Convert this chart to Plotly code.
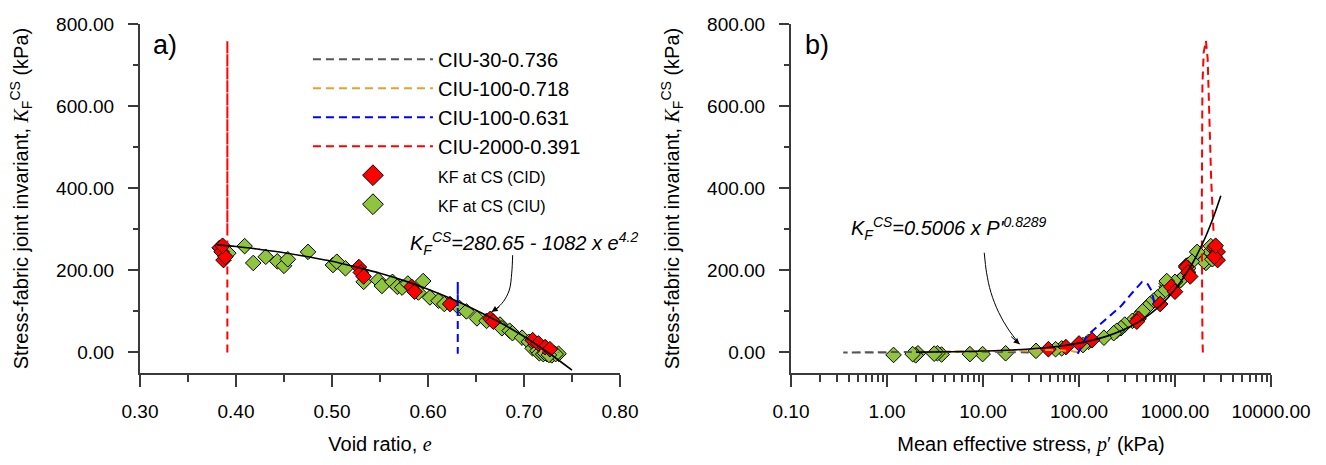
import math
import plotly.graph_objects as go

# ---------------- data ----------------
# Critical-state points of drained tests (CID): void ratio, mean effective stress, KF
cid_e = [0.383, 0.385, 0.387, 0.389, 0.386, 0.528, 0.530, 0.533, 0.583, 0.586,
         0.623, 0.665, 0.668, 0.709, 0.715, 0.722, 0.727]
cid_p = [2570, 2780, 2780, 2570, 2650, 1310, 1370, 1440, 915, 1000,
         700, 417, 400, 137, 100, 73, 48]
cid_kf = [255, 245, 225, 233, 260, 208, 195, 185, 160, 148,
          118, 82, 75, 30, 22, 13, 8]

# Critical-state points of undrained tests (CIU)
ciu_e = [0.392, 0.409, 0.418, 0.431, 0.443, 0.450, 0.454, 0.475, 0.501, 0.505,
         0.514, 0.533, 0.548, 0.552, 0.563, 0.568, 0.573, 0.579, 0.595, 0.590,
         0.602, 0.611, 0.617, 0.633, 0.640, 0.651, 0.661, 0.675, 0.677, 0.685,
         0.688, 0.698, 0.705, 0.709, 0.712, 0.718, 0.714, 0.716, 0.720, 0.724,
         0.727, 0.731, 0.736, 0.722, 0.729, 0.733, 0.726]
ciu_p = [2250, 2360, 2100, 1800, 2000, 1310, 2450, 1700, 1370, 1500,
         1370, 1090, 1140, 860, 1000, 820, 860, 820, 820, 750,
         657, 598, 546, 500, 460, 395, 360, 300, 274, 248,
         230, 182, 126, 66, 110, 57, 35.6, 17.2, 9.9, 7.3,
         3.7, 3.35, 3.1, 2.1, 1.99, 1.85, 1.17]
ciu_kf = [242, 259, 218, 233, 222, 211, 227, 245, 213, 221,
          205, 172, 176, 162, 172, 160, 158, 168, 174, 146,
          134, 126, 118, 108, 100, 83, 77, 68, 59, 53,
          47, 36, 26, 10, 18, 8, 4, -2, -4, -4,
          -5, -2, -3, -2, -7, -4, -6]

# Undrained stress paths (void ratio is constant in each test)
ciu30_e = 0.736
ciu30_p = [30, 20, 10, 5, 2, 1.0, 0.6, 0.35, 0.6, 1.0]
ciu30_kf = [0, 1, 2, 2, 1, 1, 0, 0, 0, 0]

ciu100a_e = 0.718
ciu100a_p = [100, 80, 50, 20, 8, 4, 1.9]
ciu100a_kf = [0, 4, 6, 4, 2, 2, 1]

ciu100b_e = 0.631
ciu100b_p = [98, 97, 120, 190, 274, 361, 454, 521, 571, 598, 615]
ciu100b_kf = [0, -3, 40, 81, 113, 146, 172, 166, 150, 130, 113]

ciu2000_e = 0.391
ciu2000_p = [1950, 1930, 1900, 1910, 1930, 1990, 2100, 2190, 2260, 2300, 2380, 2470, 2530]
ciu2000_kf = [0, 40, 324, 500, 650, 731, 759, 715, 610, 503, 422, 341, 284]

# Fitted curves as drawn
fit_e = [0.38, 0.40, 0.425, 0.45, 0.475, 0.50, 0.525, 0.55, 0.575, 0.60,
         0.625, 0.65, 0.675, 0.70, 0.725, 0.75]
fit_e_kf = [262, 258, 251, 243, 233, 222, 208, 193, 175, 154,
            130, 103, 73, 39, 0, -43]
fit_p = [2, 5, 10, 20, 50, 100, 200, 400, 700, 1000, 1500, 2000, 2500, 3000]
fit_p_kf = [0.9, 1.9, 3.4, 6.0, 12.8, 22.8, 40.4, 71.8, 114.2, 153.5, 214.9, 272.6, 328.2, 381.7]

# Curved annotation arrows
arrow_a_e = [0.6882, 0.6872, 0.6847, 0.6785, 0.6715, 0.6663]
arrow_a_kf = [237, 193, 152, 124, 107, 99]
arrow_b_p = [10.3, 10.9, 12.1, 14.6, 18.3, 24.1]
arrow_b_kf = [243, 194, 146, 97, 57, 20]

# Tick labels
xa_tickvals = [0.30, 0.40, 0.50, 0.60, 0.70, 0.80]
xa_ticktext = ["0.30", "0.40", "0.50", "0.60", "0.70", "0.80"]
xb_tickvals = [0.1, 1, 10, 100, 1000, 10000]
xb_ticktext = ["0.10", "1.00", "10.00", "100.00", "1000.00", "10000.00"]
y_tickvals = [0, 200, 400, 600, 800]
y_ticktext = ["0.00", "200.00", "400.00", "600.00", "800.00"]

# ---------------- styling ----------------
FONT = "Arial, 'Liberation Sans', sans-serif"
SERIF = "'Liberation Serif', 'Times New Roman', serif"
AX = "#3a3a3a"
GREEN = "#8EC43E"
RED = "#FF0000"
DASH = "8px,5px"

fig = go.Figure()


def marker_traces(xe, xp, kf, name, color, rank):
    mk = dict(symbol="diamond", size=12, color=color, line=dict(color="black", width=1))
    fig.add_trace(go.Scatter(x=xe, y=kf, mode="markers", name=name, marker=mk,
                             xaxis="x", yaxis="y", showlegend=False))
    fig.add_trace(go.Scatter(x=xp, y=kf, mode="markers", name=name, marker=mk,
                             xaxis="x2", yaxis="y2", showlegend=False))
    # legend entry (larger symbol, as in the reference legend)
    fig.add_trace(go.Scatter(x=[None], y=[None], mode="markers", name=name, legendrank=rank,
                             marker=dict(symbol="diamond", size=16, color=color,
                                         line=dict(color="black", width=1)),
                             xaxis="x", yaxis="y", showlegend=True))


marker_traces(ciu_e, ciu_p, ciu_kf,
              '<span style="font-size:16px">KF at CS (CIU)</span>', GREEN, 6)
marker_traces(cid_e, cid_p, cid_kf,
              '<span style="font-size:16px">KF at CS (CID)</span>', RED, 5)

paths = [
    ("CIU-30-0.736", ciu30_e, ciu30_p, ciu30_kf, "#555555", 1),
    ("CIU-100-0.718", ciu100a_e, ciu100a_p, ciu100a_kf, "#E8A030", 2),
    ("CIU-100-0.631", ciu100b_e, ciu100b_p, ciu100b_kf, "#0000FF", 3),
    ("CIU-2000-0.391", ciu2000_e, ciu2000_p, ciu2000_kf, RED, 4),
]
for name, e0, pp, kk, col, rank in paths:
    fig.add_trace(go.Scatter(x=[e0] * len(kk), y=kk, mode="lines", name=name,
                             legendrank=rank, line=dict(color=col, width=2, dash=DASH),
                             xaxis="x", yaxis="y", showlegend=True))
    fig.add_trace(go.Scatter(x=pp, y=kk, mode="lines", name=name, legendrank=rank,
                             line=dict(color=col, width=2, dash=DASH),
                             xaxis="x2", yaxis="y2", showlegend=False))

fig.add_trace(go.Scatter(x=fit_e, y=fit_e_kf, mode="lines", line=dict(color="black", width=1.6),
                         xaxis="x", yaxis="y", showlegend=False, line_shape="spline"))
fig.add_trace(go.Scatter(x=fit_p, y=fit_p_kf, mode="lines", line=dict(color="black", width=1.6),
                         xaxis="x2", yaxis="y2", showlegend=False, line_shape="spline"))

fig.add_trace(go.Scatter(x=arrow_a_e, y=arrow_a_kf, mode="lines", line=dict(color="black", width=1),
                         xaxis="x", yaxis="y", showlegend=False, line_shape="spline"))
fig.add_trace(go.Scatter(x=arrow_b_p, y=arrow_b_kf, mode="lines", line=dict(color="black", width=1),
                         xaxis="x2", yaxis="y2", showlegend=False, line_shape="spline"))

annotations = [
    dict(text="a)", x=0.3115, y=750, xref="x", yref="y", xanchor="left", yanchor="middle",
         showarrow=False, font=dict(size=27, color="black")),
    dict(text="b)", x=-0.875, y=750, xref="x2", yref="y2", xanchor="left", yanchor="middle",
         showarrow=False, font=dict(size=27, color="black")),
    dict(text="<i>K<sub>F</sub><sup>CS</sup>=280.65 - 1082 x e<sup>4.2</sup></i>",
         x=0.579, y=266, xref="x", yref="y", xanchor="left", yanchor="middle",
         showarrow=False, font=dict(size=20, color="black")),
    dict(text="<i>K<sub>F</sub><sup>CS</sup>=0.5006 x P'<sup>0.8289</sup></i>",
         x=math.log10(0.40), y=302, xref="x2", yref="y2", xanchor="left", yanchor="middle",
         showarrow=False, font=dict(size=20, color="black")),
    dict(text="", x=arrow_a_e[-1], y=arrow_a_kf[-1], xref="x", yref="y",
         showarrow=True, arrowhead=2, arrowsize=1.2, arrowwidth=1, arrowcolor="black",
         ax=9, ay=-6, standoff=0),
    dict(text="", x=math.log10(arrow_b_p[-1]), y=arrow_b_kf[-1], xref="x2", yref="y2",
         showarrow=True, arrowhead=2, arrowsize=1.2, arrowwidth=1, arrowcolor="black",
         ax=-10, ay=-9, standoff=0),
]

common_axis = dict(showline=True, linecolor=AX, linewidth=2, ticks="outside",
                   tickcolor=AX, tickwidth=1.5, showgrid=False, zeroline=False,
                   tickfont=dict(size=19, color="black", family=FONT))

ytitle = ('Stress-fabric joint invariant, <span style="font-family:' + SERIF +
          '"><i>K</i></span><sub>F</sub><sup>CS</sup> (kPa)')

fig.update_layout(
    width=1326, height=465,
    margin=dict(l=140, r=55, t=24, b=92),
    paper_bgcolor="white", plot_bgcolor="white",
    font=dict(family=FONT, color="black"),
    xaxis=dict(domain=[0, 0.4244], range=[0.30, 0.80], tickmode="array",
               tickvals=xa_tickvals, ticktext=xa_ticktext, ticklen=12,
               ticklabelstandoff=8,
               minor=dict(ticks="outside", dtick=0.05, tick0=0.3, ticklen=7,
                          tickcolor=AX, tickwidth=1.5, showgrid=False),
               title=dict(text='Void ratio, <span style="font-family:' + SERIF + '"><i>e</i></span>',
                          font=dict(size=20), standoff=16),
               anchor="y", **common_axis),
    yaxis=dict(domain=[0, 1], range=[-50, 800], tickmode="array", tickvals=y_tickvals,
               ticktext=y_ticktext, ticklen=10, ticklabelstandoff=10,
               minor=dict(ticks="outside", dtick=100, tick0=0, ticklen=5,
                          tickcolor=AX, tickwidth=1.5, showgrid=False),
               title=dict(text=ytitle, font=dict(size=20), standoff=22),
               anchor="x", **common_axis),
    xaxis2=dict(domain=[0.5756, 1], type="log", range=[-1, 4], tickmode="array",
                tickvals=xb_tickvals, ticktext=xb_ticktext, ticklen=12,
                ticklabelstandoff=8,
                minor=dict(ticks="outside", dtick="D1", ticklen=7,
                           tickcolor=AX, tickwidth=1.5, showgrid=False),
                title=dict(text='Mean effective stress, <span style="font-family:' + SERIF +
                           '"><i>p</i>′</span> (kPa)', font=dict(size=20), standoff=16),
                anchor="y2", **common_axis),
    yaxis2=dict(domain=[0, 1], range=[-50, 800], tickmode="array", tickvals=y_tickvals,
                ticktext=y_ticktext, ticklen=10, ticklabelstandoff=10,
                minor=dict(ticks="outside", dtick=100, tick0=0, ticklen=5,
                           tickcolor=AX, tickwidth=1.5, showgrid=False),
                title=dict(text=ytitle, font=dict(size=20), standoff=22),
                anchor="x2", **common_axis),
    legend=dict(x=0.1485, y=0.955, xanchor="left", yanchor="top",
                bgcolor="rgba(0,0,0,0)", font=dict(size=20, color="black"),
                itemwidth=120, tracegroupgap=0),
    annotations=annotations,
)

fig.write_html("out.html")
